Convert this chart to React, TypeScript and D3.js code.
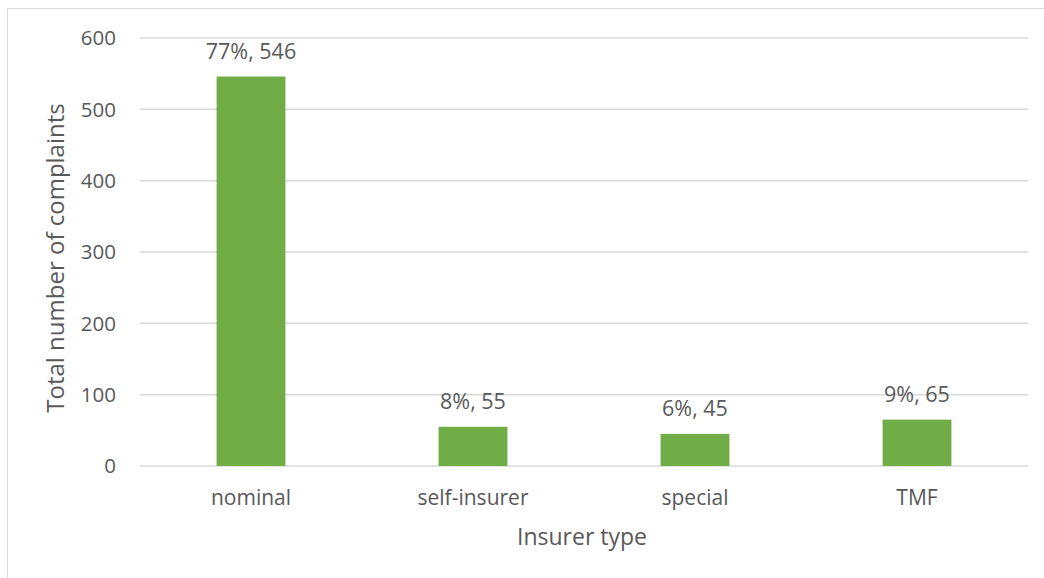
import React from "react";
import * as d3 from "d3";

const categories = ["nominal", "self-insurer", "special", "TMF"];
const values = [546, 55, 45, 65];
const shares = ["77%", "8%", "6%", "9%"];
const yTicks = [0, 100, 200, 300, 400, 500, 600];

const W = 1044;
const H = 578;
const M = { left: 140, right: 1028, top: 38, bottom: 466 };
const FONT = "'Open Sans', 'Noto Sans', sans-serif";
const TXT = "#595959";

export default function App() {
  const x = d3.scaleBand<string>().domain(categories).range([M.left, M.right]).paddingInner(0.69).paddingOuter(0.345);
  const y = d3.scaleLinear().domain([0, 600]).range([M.bottom, M.top]);
  return (
    <svg width={W} height={H} style={{ position: "absolute", left: 0, top: 0 }}>
      <rect x={0} y={0} width={W} height={H} fill="#fff" />
      <rect x={7.5} y={8.5} width={W + 10} height={H + 10} fill="none" stroke="#D9D9D9" strokeWidth={1} />
      {yTicks.map((t) => (
        <g key={t}>
          <line x1={M.left} x2={M.right} y1={y(t)} y2={y(t)} stroke="#D9D9D9" strokeWidth={1.5} />
          <text x={116} y={y(t)} dy="0.36em" textAnchor="end" fontFamily={FONT} fontSize={20.5} fill={TXT}>
            {t}
          </text>
        </g>
      ))}
      {categories.map((c, i) => (
        <g key={c}>
          <rect x={x(c)} y={y(values[i])} width={x.bandwidth()} height={y(0) - y(values[i])} fill="#70AD47" />
          <text x={(x(c) as number) + x.bandwidth() / 2} y={y(values[i]) - 18} textAnchor="middle" fontFamily={FONT} fontSize={21.5} fill={TXT}>
            {shares[i]}, {values[i]}
          </text>
          <text x={(x(c) as number) + x.bandwidth() / 2} y={505} textAnchor="middle" fontFamily={FONT} fontSize={21} fill={TXT}>
            {c}
          </text>
        </g>
      ))}
      <text x={582} y={545} textAnchor="middle" fontFamily={FONT} fontSize={23} fill={TXT}>
        Insurer type
      </text>
      <text transform={`translate(64, 258) rotate(-90)`} textAnchor="middle" fontFamily={FONT} fontSize={24} fill={TXT}>
        Total number of complaints
      </text>
    </svg>
  );
}
